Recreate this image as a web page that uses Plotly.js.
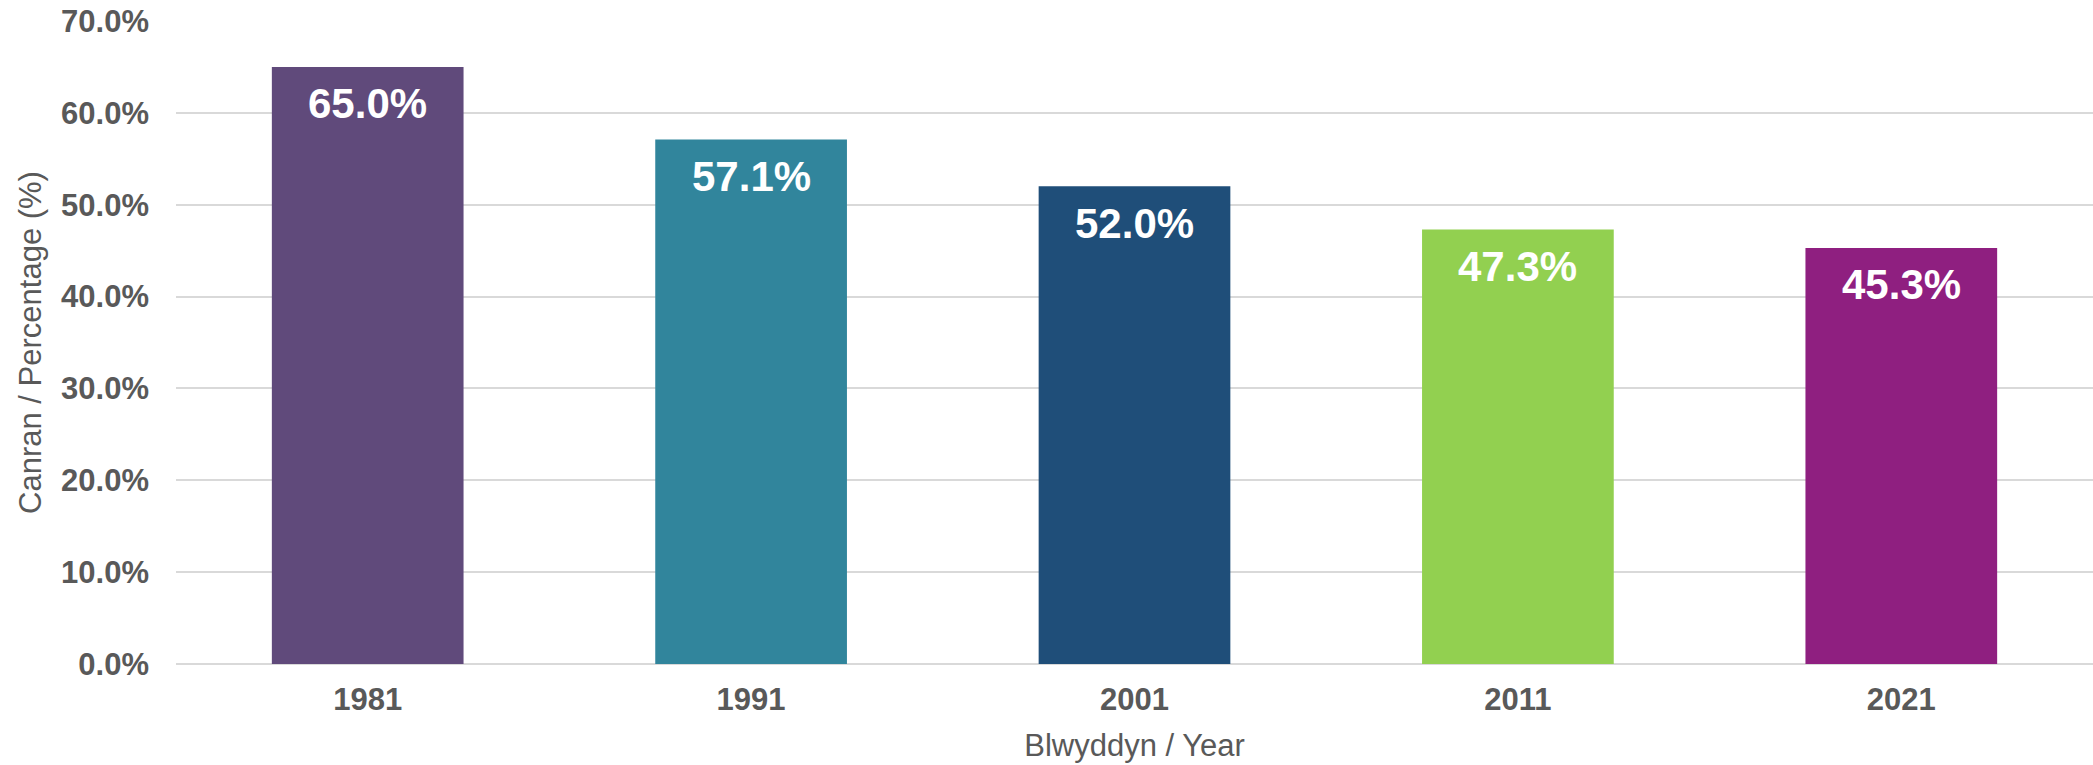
<!DOCTYPE html>
<html>
<head>
<meta charset="utf-8">
<script src="https://cdn.plot.ly/plotly-3.0.1.min.js"></script>
<style>html,body{margin:0;padding:0;background:#fff;}#chart{width:2093px;height:765px;}</style>
</head>
<body>
<div id="chart"></div>
<script>
const years = ["1981", "1991", "2001", "2011", "2021"];
const percentages = [65.0, 57.1, 52.0, 47.3, 45.3];
const barColors = ["#604A7B", "#31859C", "#1F4E79", "#92D050", "#8F1F80"];
const yTickValues = [0, 10, 20, 30, 40, 50, 60, 70];
const yTickLabels = ["0.0%", "10.0%", "20.0%", "30.0%", "40.0%", "50.0%", "60.0%", "70.0%"];
const xTitle = "Blwyddyn / Year";
const yTitle = "Canran / Percentage (%)";

const font = "Liberation Sans, Arial, sans-serif";

const trace = {
  type: "bar",
  x: years,
  y: percentages,
  width: 0.5,
  marker: {color: barColors},
  hoverinfo: "skip"
};

const annotations = years.map((yr, i) => ({
  x: i,
  y: percentages[i],
  xref: "x",
  yref: "y",
  text: "<b>" + percentages[i].toFixed(1) + "%</b>",
  showarrow: false,
  yanchor: "middle",
  xanchor: "center",
  yshift: -37,
  font: {family: font, size: 42, color: "#FFFFFF"}
}));

const layout = {
  width: 2093,
  height: 765,
  margin: {l: 176, r: 0, t: 21, b: 101},
  paper_bgcolor: "#FFFFFF",
  plot_bgcolor: "#FFFFFF",
  showlegend: false,
  font: {family: font, color: "#595959"},
  xaxis: {
    type: "category",
    range: [-0.5, 4.5],
    showgrid: false,
    showline: false,
    zeroline: false,
    ticks: "",
    tickfont: {family: font, size: 31, color: "#595959", weight: "bold"},
    ticklabelstandoff: 14,
    title: {text: xTitle, font: {family: font, size: 31, color: "#595959"}, standoff: 18},
    automargin: false
  },
  yaxis: {
    range: [0, 70],
    tickvals: yTickValues,
    ticktext: yTickLabels,
    showgrid: true,
    gridcolor: "#D9D9D9",
    gridwidth: 2,
    zeroline: true,
    zerolinecolor: "#D9D9D9",
    zerolinewidth: 2,
    showline: false,
    ticks: "",
    tickfont: {family: font, size: 31, color: "#595959", weight: "bold"},
    ticklabelstandoff: 26,
    title: {text: yTitle, font: {family: font, size: 31, color: "#595959"}, standoff: 10},
    automargin: false
  },
  annotations: annotations
};

Plotly.newPlot("chart", [trace], layout, {displayModeBar: false, staticPlot: true});
</script>
</body>
</html>
